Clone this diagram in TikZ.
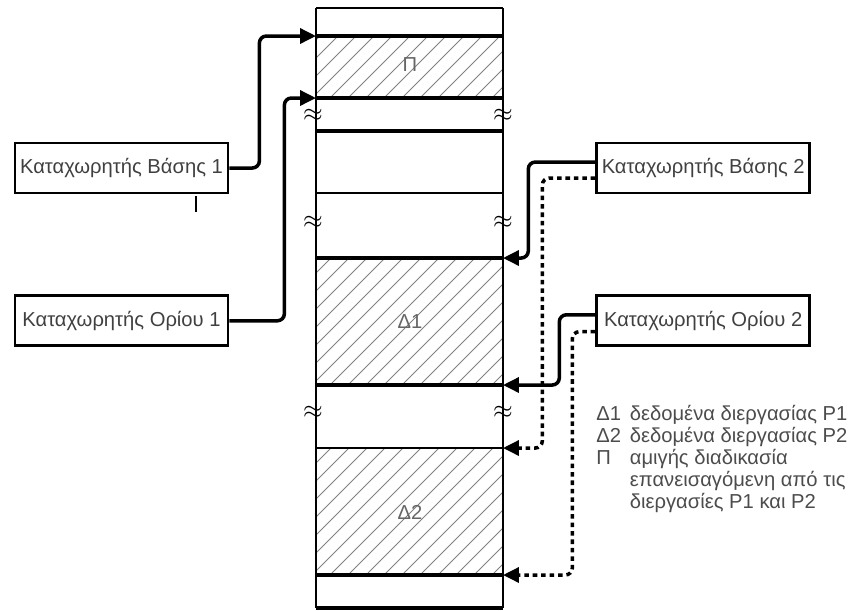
\documentclass[tikz,border=0pt]{standalone}
\usepackage{fontspec}
\setmainfont{Liberation Sans}
\usepackage{tikz}
\usetikzlibrary{arrows.meta,positioning,calc}

\begin{document}
\begin{tikzpicture}[x=0.02cm,y=-0.02cm,>={Triangle[length=3.2mm,width=3mm]},font=\fontsize{11.5}{12.5}\selectfont]
  \tikzstyle{regbox}=[draw,line width=1.6pt,minimum width=4.26cm,minimum height=1cm,inner sep=2pt,text=black!75]
  \tikzstyle{conn}=[line width=2pt,rounded corners=4pt]
  \tikzstyle{dconn}=[conn,dash pattern=on 2.6pt off 2.2pt]
  \tikzstyle{hatch}=[gray,line width=0.45pt]
  \tikzstyle{brk}=[inner sep=0pt,font=\Large]
  \tikzstyle{seglabel}=[text=black!60]
  \useasboundingbox (0,0) rectangle (850,610);
  % hatched segments P, D1, D2
  \foreach \ya/\yb in {36/98,258/385,448/575}{
    \begin{scope}
      \clip (316,\ya) rectangle (503,\yb);
      \foreach \i in {-130,-112,...,200}
        \draw[hatch] (316+\i,\yb) -- ++(130,-130);
    \end{scope}
  }
  % memory column
  \draw[line width=1.6pt] (316,8) -- (316,608);
  \draw[line width=1.6pt] (503,8) -- (503,608);
  \draw[line width=1pt] (316,8) -- (503,8);
  \foreach \y/\w in {36/2.2pt,98/2.2pt,131/2pt,193/1.3pt,258/2.2pt,385/2.2pt,448/1.3pt,575/2.2pt,608/2.2pt}
    \draw[line width=\w] (316,\y) -- (503,\y);
  \foreach \y in {115,222,412}{
    \node[brk] at (313,\y) {$\approx$};
    \node[brk] at (503,\y) {$\approx$};
  }
  \node[seglabel] (lp) at (410,65) {Π};
  \node[seglabel] (ld1) at (410,322) {Δ1};
  \node[seglabel] (ld2) at (410,512) {Δ2};
  \coordinate (base1) at (316,36);
  \coordinate (lim1) at (316,98);
  \coordinate (base2) at (503,258);
  \coordinate (lim2) at (503,385);
  \coordinate (base2b) at (503,448);
  \coordinate (lim2b) at (503,575);
  % registers
  \node[regbox] (vb1) at (121.5,168) {Καταχωρητής Βάσης 1};
  \node[regbox,below=2cm of vb1] (vo1) {Καταχωρητής Ορίου 1};
  \node[regbox,right=7.32cm of vb1] (vb2) {Καταχωρητής Βάσης 2};
  \node[regbox,below=2cm of vb2] (vo2) {Καταχωρητής Ορίου 2};
  \draw[line width=1.2pt] (196,196) -- (196,212);
  % connectors
  \draw[conn,->] (vb1.east) -- ++(30,0) |- (base1);
  \draw[conn,->] (vo1.east) -- ++(55,0) |- (lim1);
  \draw[conn,->] ([yshift=3.4pt]vb2.west) -- ++(-67,0) |- (base2);
  \draw[dconn,->] ([yshift=-5.7pt]vb2.west) -- ++(-53,0) |- (base2b);
  \draw[conn,->] ([yshift=3.4pt]vo2.west) -- ++(-36,0) |- (lim2);
  \draw[dconn,->] ([yshift=-6.2pt]vo2.west) -- ++(-23,0) |- (lim2b);
  % legend
  \node[anchor=north west,inner sep=0pt,text=black!70] (legend) at (596,405)
  {\begin{tabular}{@{}l@{\hspace{5pt}}l@{}}
    Δ1 & δεδομένα διεργασίας P1\\
    Δ2 & δεδομένα διεργασίας P2\\
    Π  & αμιγής διαδικασία\\
       & επανεισαγόμενη από τις\\
       & διεργασίες P1 και P2
  \end{tabular}};
\end{tikzpicture}
\end{document}
